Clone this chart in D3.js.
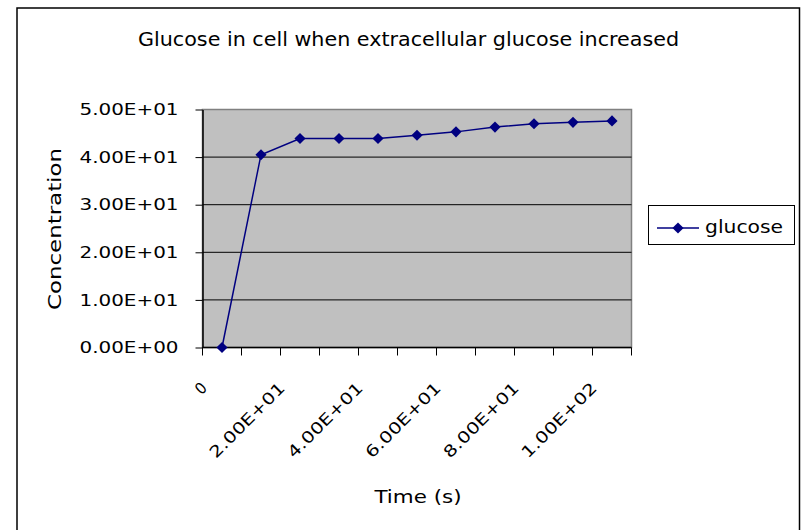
<!DOCTYPE html>
<html>
<head>
<meta charset="utf-8">
<script src="https://cdn.jsdelivr.net/npm/d3@7/dist/d3.min.js"></script>
<style>
  html, body { margin: 0; padding: 0; background: #ffffff; }
  svg { display: block; }
  text { font-family: "Liberation Sans Narrow", "DejaVu Sans Condensed", "Liberation Sans", sans-serif; fill: #000; }
</style>
</head>
<body>
<svg id="chart" width="801" height="530"></svg>
<script>
// Time categories (seconds) and their axis labels
const categories = ["0", "1.00E+01", "2.00E+01", "3.00E+01", "4.00E+01", "5.00E+01",
                    "6.00E+01", "7.00E+01", "8.00E+01", "9.00E+01", "1.00E+02"];
// Glucose concentration in the cell at each time
const glucose = [0, 40.5, 43.9, 43.9, 43.9, 44.6, 45.3, 46.3, 47.0, 47.3, 47.6];
// Concentration axis ticks and labels
const yTicks = [0, 10, 20, 30, 40, 50];
const yTickLabels = ["0.00E+00", "1.00E+01", "2.00E+01", "3.00E+01", "4.00E+01", "5.00E+01"];
const seriesName = "glucose";

const svg = d3.select("#chart");

// Outer chart frame
svg.append("rect")
  .attr("x", 17).attr("y", 8)
  .attr("width", 782.5).attr("height", 540)
  .attr("fill", "#fff").attr("stroke", "#000").attr("stroke-width", 1.5);

const plot = { left: 202.5, right: 631.5, top: 109.5, bottom: 347.5 };

const x = d3.scaleBand().domain(categories).range([plot.left, plot.right]);
const y = d3.scaleLinear().domain([0, 50]).range([plot.bottom, plot.top]);

// Plot area background
svg.append("rect")
  .attr("x", plot.left).attr("y", plot.top)
  .attr("width", plot.right - plot.left).attr("height", plot.bottom - plot.top)
  .attr("fill", "#c0c0c0").attr("stroke", "#808080").attr("stroke-width", 1.5);

// Horizontal gridlines
svg.append("g").selectAll("line")
  .data(yTicks.filter(v => v > 0 && v < 50))
  .join("line")
  .attr("x1", plot.left).attr("x2", plot.right)
  .attr("y1", d => y(d)).attr("y2", d => y(d))
  .attr("stroke", "#000").attr("stroke-width", 1);

// Y axis
const yAxis = d3.axisLeft(y).tickValues(yTicks).tickSize(7).tickSizeOuter(0)
  .tickFormat((d, i) => yTickLabels[i]);
const gy = svg.append("g").attr("transform", `translate(${plot.left},0)`).call(yAxis);
gy.select(".domain").attr("stroke", "#000").attr("stroke-width", 1.5);
gy.selectAll(".tick line").attr("stroke", "#000");
gy.selectAll(".tick text")
  .attr("x", -24)
  .attr("font-size", 16)
  .attr("textLength", 99).attr("lengthAdjust", "spacingAndGlyphs");

// X axis: ticks on category boundaries
const xBounds = categories.map(c => x(c)).concat([plot.right]);
const gx = svg.append("g");
gx.append("line")
  .attr("x1", plot.left).attr("x2", plot.right)
  .attr("y1", plot.bottom).attr("y2", plot.bottom)
  .attr("stroke", "#000").attr("stroke-width", 1.5);
gx.selectAll("line.tick")
  .data(xBounds)
  .join("line").attr("class", "tick")
  .attr("x1", d => d).attr("x2", d => d)
  .attr("y1", plot.bottom).attr("y2", plot.bottom + 8)
  .attr("stroke", "#000");

// Category labels, every second one, rotated
gx.selectAll("text")
  .data(categories.filter((c, i) => i % 2 === 0))
  .join("text")
  .attr("transform", d => `translate(${x(d) + x.bandwidth() / 2 - 14},389) rotate(-45)`)
  .attr("text-anchor", "end")
  .attr("font-size", 16)
  .each(function (d) {
    const t = d3.select(this).text(d);
    if (d.length > 1) t.attr("textLength", 99).attr("lengthAdjust", "spacingAndGlyphs");
  });

// Series line and markers
const cx = d => x(d) + x.bandwidth() / 2;
const line = d3.line().x((d, i) => cx(categories[i])).y(d => y(d));
svg.append("path")
  .datum(glucose)
  .attr("d", line)
  .attr("fill", "none").attr("stroke", "#000080").attr("stroke-width", 1.5);

const diamond = d3.symbol().type(d3.symbolSquare).size(62);
svg.append("g").selectAll("path")
  .data(glucose)
  .join("path")
  .attr("d", diamond)
  .attr("transform", (d, i) => `translate(${cx(categories[i])},${y(d)}) rotate(45)`)
  .attr("fill", "#000080");

// Title
svg.append("text")
  .attr("x", 408.5).attr("y", 46)
  .attr("text-anchor", "middle")
  .attr("font-size", 19)
  .attr("textLength", 541).attr("lengthAdjust", "spacingAndGlyphs")
  .text("Glucose in cell when extracellular glucose increased");

// Axis titles
svg.append("text")
  .attr("transform", `translate(61,229) rotate(-90)`)
  .attr("text-anchor", "middle")
  .attr("font-size", 17)
  .attr("textLength", 162).attr("lengthAdjust", "spacingAndGlyphs")
  .text("Concentration");

svg.append("text")
  .attr("x", 418).attr("y", 503)
  .attr("text-anchor", "middle")
  .attr("font-size", 17)
  .attr("textLength", 87).attr("lengthAdjust", "spacingAndGlyphs")
  .text("Time (s)");

// Legend
const lg = svg.append("g");
lg.append("rect")
  .attr("x", 648.5).attr("y", 205.5).attr("width", 146).attr("height", 39)
  .attr("fill", "#fff").attr("stroke", "#000").attr("stroke-width", 1);
lg.append("line")
  .attr("x1", 657).attr("x2", 699).attr("y1", 228).attr("y2", 228)
  .attr("stroke", "#000080").attr("stroke-width", 1.5);
lg.append("path")
  .attr("d", diamond)
  .attr("transform", "translate(678,228) rotate(45)")
  .attr("fill", "#000080");
lg.append("text")
  .attr("x", 705).attr("y", 233)
  .attr("font-size", 17)
  .attr("textLength", 78).attr("lengthAdjust", "spacingAndGlyphs")
  .text(seriesName);
</script>
</body>
</html>
